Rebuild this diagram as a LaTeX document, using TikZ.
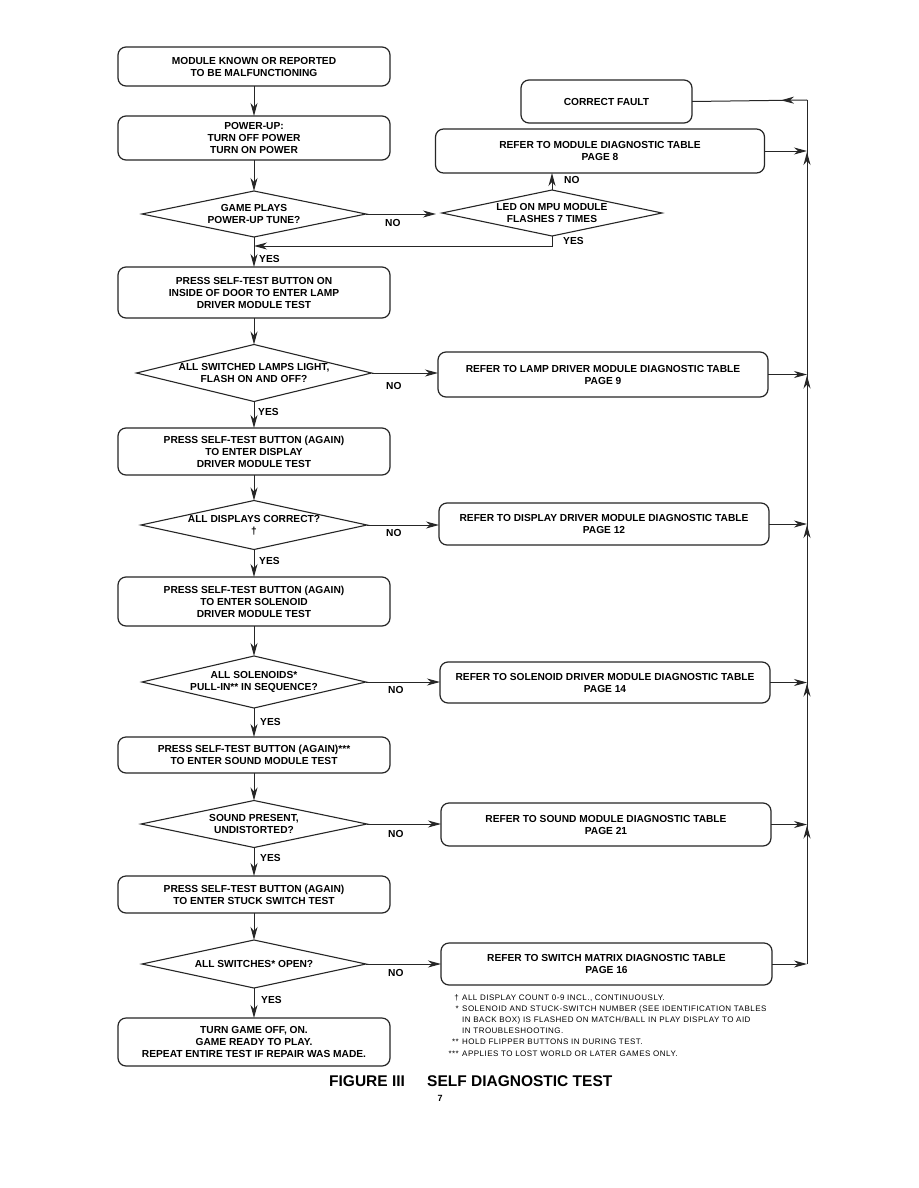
\documentclass[tikz,border=0pt]{standalone}
\usepackage{fontspec}
\setmainfont{Liberation Sans}
\newfontfamily\notefam[LetterSpace=6]{Liberation Sans}
\usetikzlibrary{shapes.geometric,arrows.meta,decorations.markings}
\newcommand\myboxfont{\fontsize{10.2}{12}\selectfont\bfseries}
\newcommand\mynotefont{\notefam\fontsize{8}{11}\selectfont}
\newcommand\mytitlefont{\fontsize{15.5}{18}\selectfont\bfseries}
\tikzset{
  flow/.style={draw=black!85, line width=1pt},
  tip/.tip={Stealth[length=13pt,width=7pt,inset=4pt]},
  arr/.style={flow, -tip},
  box/.style={draw=black!85, line width=1.2pt, rounded corners=8pt, align=center, inner sep=0pt, outer sep=0pt, font=\myboxfont},
  dia/.style={draw=black!85, line width=1.1pt, diamond, inner sep=0pt, outer sep=0pt},
  lbl/.style={font=\myboxfont, inner sep=0pt, align=center},
  note/.style={font=\mynotefont, inner sep=0pt, anchor=west},
  upmark/.style={flow, postaction={decorate}, decoration={markings, mark=at position -1pt with {\arrow{tip}}}},
  leftmark/.style={flow, postaction={decorate}, decoration={markings, mark=at position 26pt with {\arrow{tip}}}},
}
\begin{document}
\begin{tikzpicture}[x=1pt,y=-1pt]
\useasboundingbox (0,0) rectangle (918,1188);
\fill[white] (0,0) rectangle (918,1188);

% left column
\node[box, minimum width=272pt, minimum height=39pt] (b1) at (254,66.5) {MODULE KNOWN OR REPORTED\\TO BE MALFUNCTIONING};
\node[box, minimum width=272pt, minimum height=44pt] (b2) at (254,138) {POWER-UP:\\TURN OFF POWER\\TURN ON POWER};
\node[dia, minimum width=224pt, minimum height=46pt] (d1) at (254,214) {};
\node[lbl] (d1t) at (d1.center) {GAME PLAYS\\POWER-UP TUNE?};
\node[box, minimum width=272pt, minimum height=51pt] (b3) at (254,292.5) {PRESS SELF-TEST BUTTON ON\\INSIDE OF DOOR TO ENTER LAMP\\DRIVER MODULE TEST};
\node[dia, minimum width=235pt, minimum height=57pt] (d3) at (254,373) {};
\node[lbl] (d3t) at (d3.center) {ALL SWITCHED LAMPS LIGHT,\\FLASH ON AND OFF?};
\node[box, minimum width=272pt, minimum height=47pt] (b4) at (254,451.5) {PRESS SELF-TEST BUTTON (AGAIN)\\TO ENTER DISPLAY\\DRIVER MODULE TEST};
\node[dia, minimum width=226pt, minimum height=49pt] (d4) at (254,525) {};
\node[lbl] (d4t) at (d4.center) {ALL DISPLAYS CORRECT?\\\dag};
\node[box, minimum width=272pt, minimum height=49pt] (b5) at (254,601.5) {PRESS SELF-TEST BUTTON (AGAIN)\\TO ENTER SOLENOID\\DRIVER MODULE TEST};
\node[dia, minimum width=224pt, minimum height=52pt] (d5) at (254,682) {};
\node[lbl] (d5t) at (d5.center) {ALL SOLENOIDS*\\PULL-IN** IN SEQUENCE?};
\node[box, minimum width=272pt, minimum height=36pt] (b6) at (254,755) {PRESS SELF-TEST BUTTON (AGAIN)***\\TO ENTER SOUND MODULE TEST};
\node[dia, minimum width=226pt, minimum height=47pt] (d6) at (254,824) {};
\node[lbl] (d6t) at (d6.center) {SOUND PRESENT,\\UNDISTORTED?};
\node[box, minimum width=272pt, minimum height=37pt] (b7) at (254,894.5) {PRESS SELF-TEST BUTTON (AGAIN)\\TO ENTER STUCK SWITCH TEST};
\node[dia, minimum width=224pt, minimum height=48pt] (d7) at (254,964) {};
\node[lbl] (d7t) at (d7.center) {ALL SWITCHES* OPEN?};
\node[box, minimum width=272pt, minimum height=48pt] (b8) at (254,1042) {TURN GAME OFF, ON.\\GAME READY TO PLAY.\\REPEAT ENTIRE TEST IF REPAIR WAS MADE.};

% right column
\node[box, minimum width=171pt, minimum height=43pt] (fault) at (606.5,101.5) {CORRECT FAULT};
\node[box, minimum width=329pt, minimum height=44pt] (mod) at (600,151) {REFER TO MODULE DIAGNOSTIC TABLE\\PAGE 8};
\node[dia, minimum width=220pt, minimum height=46pt] (d2) at (552,213) {};
\node[lbl] (d2t) at (d2.center) {LED ON MPU MODULE\\FLASHES 7 TIMES};
\node[box, minimum width=330pt, minimum height=45pt] (lamp) at (603,374.5) {REFER TO LAMP DRIVER MODULE DIAGNOSTIC TABLE\\PAGE 9};
\node[box, minimum width=330pt, minimum height=42pt] (disp) at (604,524) {REFER TO DISPLAY DRIVER MODULE DIAGNOSTIC TABLE\\PAGE 12};
\node[box, minimum width=330pt, minimum height=41pt] (sol) at (605,682.5) {REFER TO SOLENOID DRIVER MODULE DIAGNOSTIC TABLE\\PAGE 14};
\node[box, minimum width=330pt, minimum height=43pt] (snd) at (606,824.5) {REFER TO SOUND MODULE DIAGNOSTIC TABLE\\PAGE 21};
\node[box, minimum width=331pt, minimum height=42pt] (sw) at (606.5,964) {REFER TO SWITCH MATRIX DIAGNOSTIC TABLE\\PAGE 16};

% main flow
\draw[arr] (b1.south) -- (b2.north);
\draw[arr] (b2.south) -- (d1.north);
\draw[arr] (d1.south) -- (b3.north);
\draw[arr] (b3.south) -- (d3.north);
\draw[arr] (d3.south) -- (b4.north);
\draw[arr] (b4.south) -- (d4.north);
\draw[arr] (d4.south) -- (b5.north);
\draw[arr] (b5.south) -- (d5.north);
\draw[arr] (d5.south) -- (b6.north);
\draw[arr] (b6.south) -- (d6.north);
\draw[arr] (d6.south) -- (b7.north);
\draw[arr] (b7.south) -- (d7.north);
\draw[arr] (d7.south) -- (b8.north);

% NO branches
\draw[arr, shorten >=6pt] (d1.east) -- (d1.east -| d2.west);
\draw[arr] (d2.north) -- (d2.north |- mod.south);
\coordinate (yj) at (254,246);
\draw[arr] (d2.south) |- (yj);
\draw[arr] (d3.east) -- (d3.east -| lamp.west);
\draw[arr] (d4.east) -- (d4.east -| disp.west);
\draw[arr] (d5.east) -- (d5.east -| sol.west);
\draw[arr] (d6.east) -- (d6.east -| snd.west);
\draw[arr] (d7.east) -- (d7.east -| sw.west);

% return bus
\coordinate (vtop) at (807,100);
\draw[arr] (mod.east) -- (mod.east -| vtop);
\draw[arr] (lamp.east) -- (lamp.east -| vtop);
\draw[arr] (disp.east) -- (disp.east -| vtop);
\draw[arr] (sol.east) -- (sol.east -| vtop);
\draw[arr] (snd.east) -- (snd.east -| vtop);
\draw[arr] (sw.east) -- (sw.east -| vtop);
\draw[upmark] (sw.east -| vtop) -- (snd.east -| vtop);
\draw[upmark] (snd.east -| vtop) -- (sol.east -| vtop);
\draw[upmark] (sol.east -| vtop) -- (disp.east -| vtop);
\draw[upmark] (disp.east -| vtop) -- (lamp.east -| vtop);
\draw[upmark] (lamp.east -| vtop) -- (mod.east -| vtop);
\draw[flow] (mod.east -| vtop) -- (vtop);
\draw[leftmark] (vtop) -- (fault.east);

% YES / NO labels
\node[lbl, anchor=west] (no1) at (385,223) {NO};
\node[lbl, anchor=west] (no2) at (564,180) {NO};
\node[lbl, anchor=west] (yes2) at (563,241) {YES};
\node[lbl, anchor=west] (yes1) at (259,259) {YES};
\node[lbl, anchor=west] (no3) at (386,386) {NO};
\node[lbl, anchor=west] (yes3) at (258,412) {YES};
\node[lbl, anchor=west] (no4) at (386,533) {NO};
\node[lbl, anchor=west] (yes4) at (259,561) {YES};
\node[lbl, anchor=west] (no5) at (388,690) {NO};
\node[lbl, anchor=west] (yes5) at (260,722) {YES};
\node[lbl, anchor=west] (no6) at (388,834) {NO};
\node[lbl, anchor=west] (yes6) at (260,858) {YES};
\node[lbl, anchor=west] (no7) at (388,973) {NO};
\node[lbl, anchor=west] (yes7) at (261,1000) {YES};

% footnotes
\node[note, anchor=east] (m1) at (459,998) {\dag};
\node[note] (f1) at (462,998) {ALL DISPLAY COUNT 0-9 INCL., CONTINUOUSLY.};
\node[note, anchor=east] (m2) at (459,1009) {*};
\node[note] (f2) at (462,1009) {SOLENOID AND STUCK-SWITCH NUMBER (SEE IDENTIFICATION TABLES};
\node[note] (f3) at (462,1020) {IN BACK BOX) IS FLASHED ON MATCH/BALL IN PLAY DISPLAY TO AID};
\node[note] (f4) at (462,1031) {IN TROUBLESHOOTING.};
\node[note, anchor=east] (m5) at (459,1042) {**};
\node[note] (f5) at (462,1042) {HOLD FLIPPER BUTTONS IN DURING TEST.};
\node[note, anchor=east] (m6) at (459,1054) {***};
\node[note] (f6) at (462,1054) {APPLIES TO LOST WORLD OR LATER GAMES ONLY.};

% title
\node[font=\mytitlefont, inner sep=0pt, anchor=west] (t1) at (329,1081) {FIGURE III};
\node[font=\mytitlefont, inner sep=0pt, anchor=west] (t2) at (427,1081) {SELF DIAGNOSTIC TEST};
\node[font=\fontsize{9}{10}\selectfont\bfseries, inner sep=0pt] (pg) at (440,1098) {7};
\end{tikzpicture}
\end{document}
